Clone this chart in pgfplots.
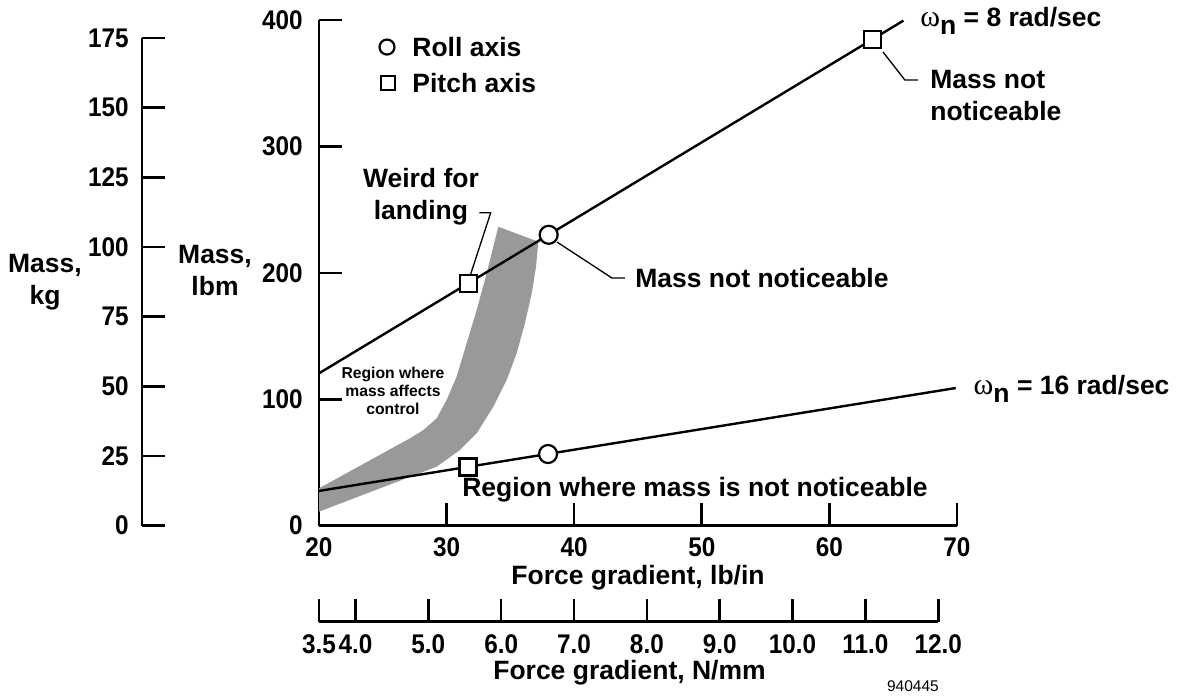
\documentclass[border=0pt]{standalone}
\usepackage{fontspec}
\setmainfont{Liberation Sans}
\newfontfamily\symfont{Liberation Serif}
\newfontfamily\narrowfont{Liberation Sans}[FakeStretch=0.9]
\usepackage{pgfplots}
\pgfplotsset{compat=1.18}
\newcommand\lab{\fontsize{13.25}{16}\selectfont\bfseries}
\newcommand\tlab{\fontsize{13.5}{16}\selectfont\narrowfont\bfseries}
\newcommand\sml{\fontsize{7.85}{9}\selectfont\bfseries}
\newcommand\omn{{\symfont\mdseries\fontsize{15}{16}\selectfont ω}\raisebox{-4pt}{n}}

\begin{document}
\begin{tikzpicture}
\useasboundingbox (0,0) rectangle (589pt,348pt);
\pgfplotsset{
  every tick/.style={black,line width=1.3pt},
  major tick length=11.3pt,
  /pgf/number format/assume math mode=true,
}
% kg scale
\begin{axis}[scale only axis, width=10pt, height=243.85pt,
  at={(71pt,85.15pt)}, anchor=south west,
  xmin=0, xmax=1, ymin=0, ymax=175,
  hide x axis, axis y line=left, axis line style={-,line width=1.35pt},
  tick align=inside,
  ytick={0,25,...,175},
  y tick label style={font=\tlab, anchor=east, xshift=-6.5pt, inner sep=0pt},
  ylabel={Mass,\\kg},
  every axis y label/.style={at={(axis description cs:0,0.5)}, xshift=-48.5pt,
    anchor=center, align=center, font=\lab},
]
\addplot[draw=none] coordinates {(0,0)};
\end{axis}

% main axis, lbm vs lb/in
\begin{axis}[scale only axis, width=319pt, height=252.85pt,
  at={(159.5pt,85.15pt)}, anchor=south west,
  xmin=20, xmax=70, ymin=0, ymax=400,
  axis x line=bottom, axis y line=left, axis line style={-,line width=1.35pt},
  tick align=inside,
  xtick={20,30,...,70}, ytick={0,100,...,400},
  x tick label style={font=\tlab, anchor=center, yshift=-10.65pt},
  y tick label style={font=\tlab, anchor=east, xshift=-8pt, inner sep=0pt},
  xlabel={Force gradient, lb/in},
  every axis x label/.style={at={(axis description cs:0.5,0)}, yshift=-26.15pt,
    anchor=center, font=\lab},
  ylabel={Mass,\\lbm},
  every axis y label/.style={at={(axis description cs:-0.163,0.5056)},
    anchor=center, align=center, font=\lab},
  clip=false,
]
% region where mass affects control
\addplot[fill=black!40, draw=none] coordinates {
  (20.0,29.6) (27.13,69.1) (28.18,75.7) (29.22,84.9) (30.0,99.4) (30.79,117.9)
  (31.57,144.3) (32.36,170.6) (33.14,199.6) (34.05,236.5) (37.19,224.6)
  (37.01,204.9) (36.67,183.8) (36.14,160.1) (35.49,136.4) (34.71,115.2)
  (33.66,94.1) (32.36,73.1) (31.05,59.9) (29.22,46.7) (20.0,11.1)
} -- cycle;

% omega_n lines
\addplot[line width=1.2pt] coordinates {(20,120.5) (65.8,399.5)};
\addplot[line width=1.2pt] coordinates {(20,27.5) (69.9,108.9)};

% leaders
\addplot[line width=0.65pt] coordinates {(31.76,195.1) (33.46,247.6) (32.57,247.6)};
\addplot[line width=0.65pt] coordinates {(38.65,224.4) (42.96,195.9) (43.98,195.9)};
\addplot[line width=0.65pt] coordinates {(64.2,374.7) (65.92,352.5) (66.94,352.5)};

% roll axis points
\addplot[only marks, mark=*, mark size=4.5pt,
  mark options={fill=white, draw=black, line width=1.1pt}]
  coordinates {(38,230.1) (37.95,56.7)};
% pitch axis points
\addplot[only marks, mark=square*, mark size=4.25pt,
  mark options={fill=white, draw=black, line width=1.1pt}]
  coordinates {(31.7,191.8) (63.4,384.8) (31.68,46.4)};

% key
\addplot[only marks, mark=*, mark size=3.75pt,
  mark options={fill=white, draw=black, line width=1.1pt}]
  coordinates {(25.33,378.6)};
\addplot[only marks, mark=square*, mark size=3.5pt,
  mark options={fill=white, draw=black, line width=1.1pt}]
  coordinates {(25.41,350.1)};
\node[font=\lab, anchor=west, inner sep=0pt] at (axis cs:27.29,378.6) {Roll axis};
\node[font=\lab, anchor=west, inner sep=0pt] at (axis cs:27.29,350.1) {Pitch axis};

% annotations
\node[font=\lab, align=center, inner sep=0pt] at (axis cs:27.99,260) {Weird for\\landing};
\node[font=\lab, anchor=west, inner sep=0pt] at (axis cs:44.76,195.9) {Mass not noticeable};
\node[font=\lab, anchor=west, align=left, inner sep=0pt] at (axis cs:67.88,339.9) {Mass not\\noticeable};
\node[font=\lab, anchor=base west, inner sep=0pt] at (axis cs:67.1,394.7) {\omn{} = 8 rad/sec};
\node[font=\lab, anchor=base west, inner sep=0pt] at (axis cs:71.28,103.4) {\omn{} = 16 rad/sec};
\node[font=\sml, align=center, inner sep=0pt] at (axis cs:25.8,106.5) {Region where\\mass affects\\control};
\node[font=\lab, anchor=west, inner sep=0pt] at (axis cs:31.2,28.2) {Region where mass is not noticeable};
\node[font=\fontsize{7.75}{9}\selectfont, inner sep=0pt] at (axis cs:66.55,-126.8) {940445};
\end{axis}

% N/mm scale
\begin{axis}[scale only axis, width=319pt, height=20pt,
  at={(159.5pt,37.15pt)}, anchor=south west,
  xmin=3.5, xmax=12.2564, ymin=0, ymax=1,
  axis x line=bottom, hide y axis, x axis line style={draw=none},
  tick align=inside,
  xtick={3.5,4,5,6,7,8,9,10,11,12},
  /pgf/number format/fixed, /pgf/number format/fixed zerofill,
  /pgf/number format/precision=1,
  x tick label style={font=\tlab, anchor=center, yshift=-11.15pt},
  xlabel={Force gradient, N/mm},
  every axis x label/.style={at={(axis description cs:0.4867,0)}, yshift=-25.65pt,
    anchor=center, font=\lab},
  clip=false,
]
\addplot[line width=1.35pt] coordinates {(3.5,0) (12,0)};
\end{axis}
\end{tikzpicture}
\end{document}
